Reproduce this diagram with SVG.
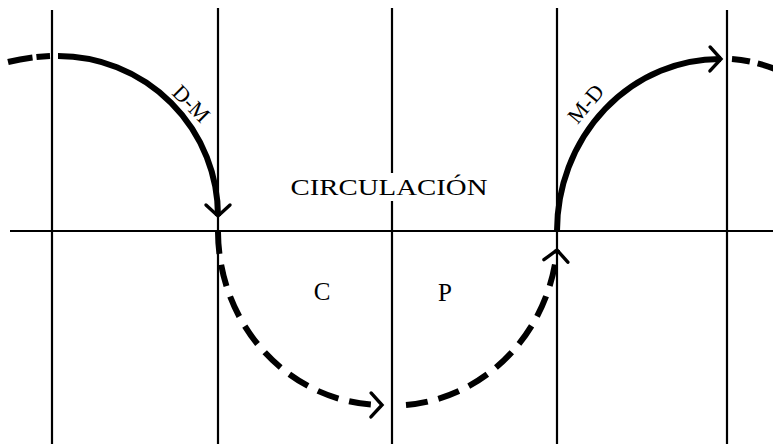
<svg xmlns="http://www.w3.org/2000/svg" width="773" height="444" viewBox="0 0 773 444">
<style>
.grid{stroke:#000;stroke-width:2.2;fill:none}
.solid{stroke:#000;stroke-width:6;fill:none}
.dash{stroke:#000;stroke-width:6;fill:none;stroke-dasharray:22 11}
.lbl{font-family:"Liberation Serif","DejaVu Serif",serif;fill:#000}
</style>
<defs>
<marker id="chev" markerUnits="userSpaceOnUse" markerWidth="40" markerHeight="40" viewBox="-20 -20 40 40" refX="0" refY="0" orient="auto" overflow="visible">
<path d="M -11 -12 L 0 0 L -11 12" fill="none" stroke="#000" stroke-width="3.4" stroke-linecap="round" stroke-linejoin="miter"/>
</marker>
</defs>
<rect width="773" height="444" fill="#fff"/>
<g id="grid">
<line class="grid" x1="52" y1="10" x2="52" y2="444"/>
<line class="grid" x1="218" y1="8" x2="218" y2="444"/>
<line class="grid" x1="392" y1="8" x2="392" y2="173"/>
<line class="grid" x1="392" y1="201" x2="392" y2="444"/>
<line class="grid" x1="557" y1="8" x2="557" y2="444"/>
<line class="grid" x1="727" y1="10" x2="727" y2="444"/>
<line class="grid" x1="10" y1="231" x2="773" y2="231"/>
</g>
<g id="connectors">
<path class="dash" d="M 8 62 Q 28 57 50 56" style="stroke-dasharray:25 4"/>
<path id="dm" class="solid" d="M 58 56 A 160 160 0 0 1 218 216" marker-end="url(#chev)"/>
<path id="cd" class="dash" d="M 218 232 A 165 174 0 0 0 382 405" marker-end="url(#chev)"/>
<path id="pd" class="dash" d="M 406 405 A 165 174 0 0 0 557 250" marker-end="url(#chev)"/>
<path id="md" class="solid" d="M 557 231 A 163 172 0 0 1 721 59" marker-end="url(#chev)"/>
<path class="dash" d="M 732 59 Q 755 61 775 69" style="stroke-dasharray:18 8"/>
</g>
<g id="labels">
<text class="lbl" x="191" y="111" font-size="22" text-anchor="middle" transform="rotate(45 191 104)">D-M</text>
<text class="lbl" x="586" y="111" font-size="22" text-anchor="middle" transform="rotate(-50 586 104)">M-D</text>
<text class="lbl" x="389" y="195" font-size="24" text-anchor="middle" textLength="197" lengthAdjust="spacingAndGlyphs">CIRCULACIÓN</text>
<text class="lbl" x="322" y="300" font-size="25" text-anchor="middle">C</text>
<text class="lbl" x="445" y="301" font-size="25" text-anchor="middle">P</text>
</g>
</svg>
